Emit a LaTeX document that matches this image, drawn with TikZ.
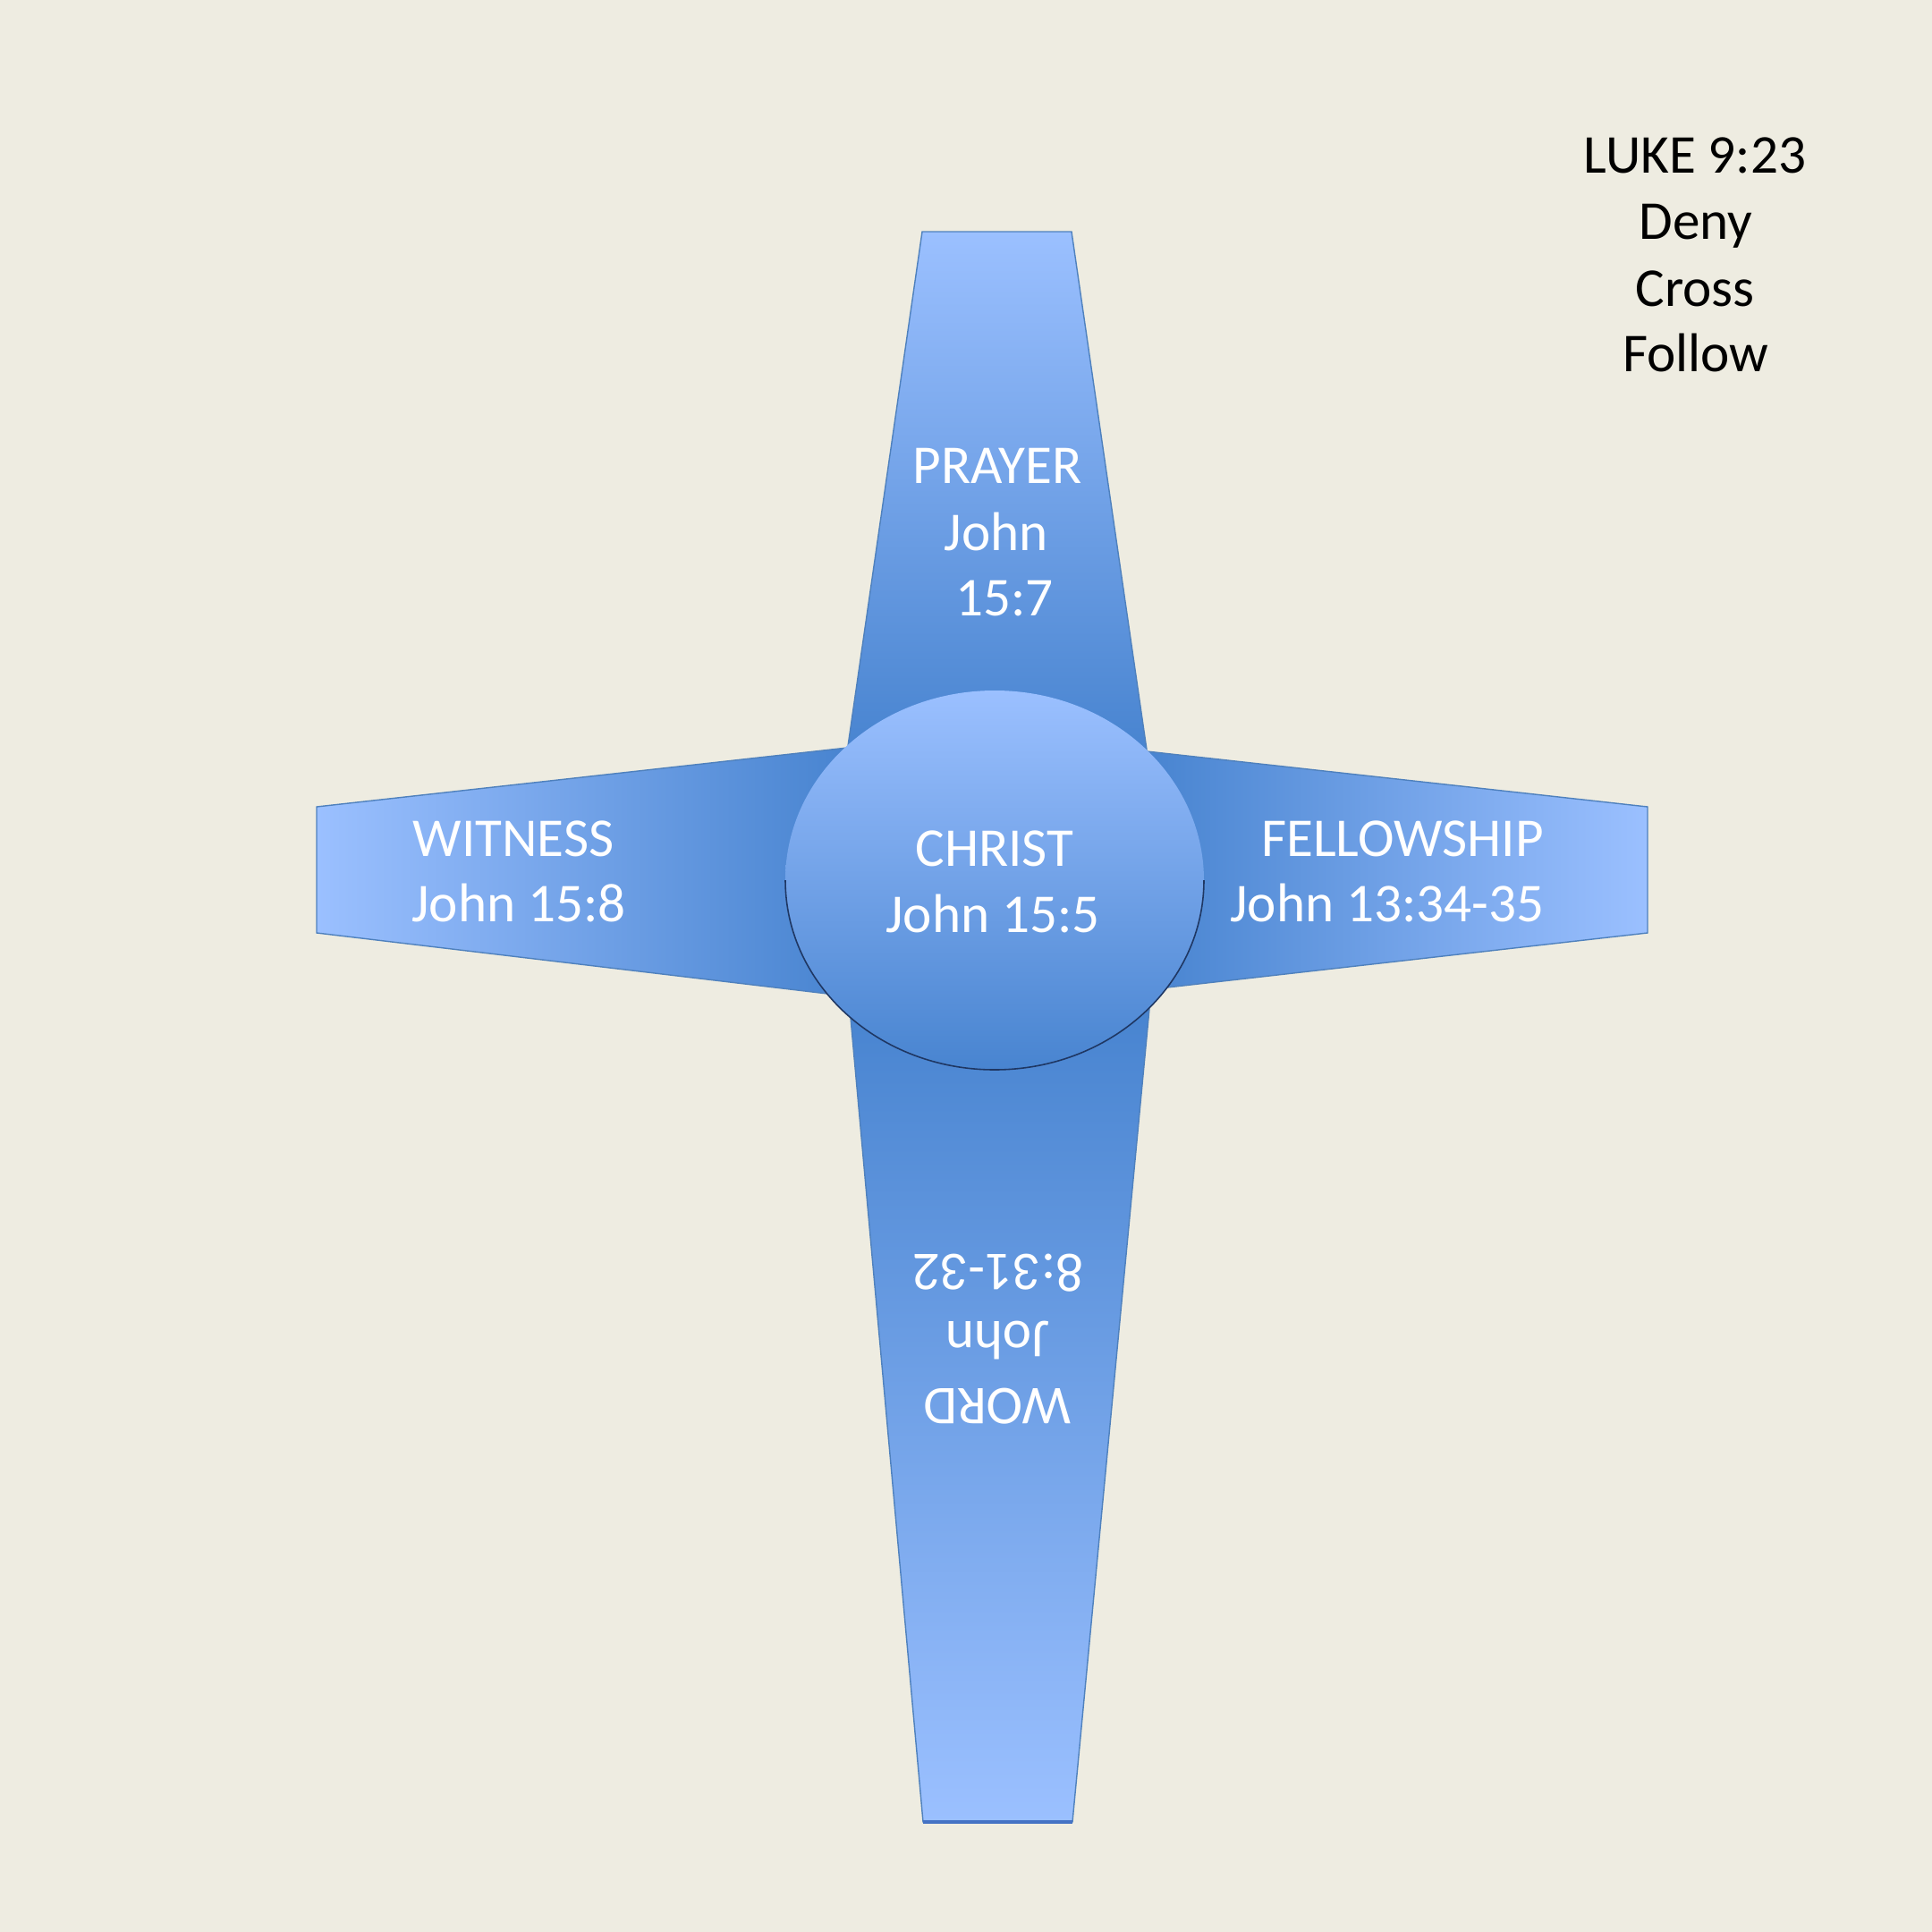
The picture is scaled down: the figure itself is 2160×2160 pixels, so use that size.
\documentclass[tikz,border=0pt]{standalone}
\usepackage{fontspec}
\setmainfont{Carlito}
\definecolor{bg}{RGB}{238,236,225}
\definecolor{armlight}{RGB}{155,192,255}
\definecolor{armdark}{RGB}{72,132,208}
\definecolor{armline}{RGB}{79,129,189}
\definecolor{armbase}{RGB}{68,114,196}
\definecolor{navy}{RGB}{31,55,99}
\begin{document}
\begin{tikzpicture}[x=0.01cm,y=-0.01cm,
  arm/.style={draw=armline, line width=0.4pt},
  lbl/.style={text=white, font=\fontsize{17.4}{21}\selectfont, inner sep=0pt, anchor=base},
  side/.style={text=black, font=\fontsize{17.4}{21}\selectfont, inner sep=0pt, anchor=base}]
\fill[bg] (0,0) rectangle (2160,2160);
\useasboundingbox (0,0) rectangle (2160,2160);

% top arm
\path[arm, top color=armlight, bottom color=armdark]
  (1031,259) -- (1198,259) -- (1282,838) -- (948,834) -- cycle;
% left arm
\path[arm, left color=armlight, right color=armdark]
  (354,902) -- (947,836) -- (925,1111) -- (354,1043) -- cycle;
% right arm
\path[arm, left color=armdark, right color=armlight]
  (1282,840) -- (1842,902) -- (1842,1043) -- (1305,1104) -- cycle;
% bottom arm
\path[arm, top color=armdark, bottom color=armlight]
  (951,1138) -- (1285,1128) -- (1199,2037) -- (1032,2037) -- cycle;
\coordinate (bl) at (1032,2037);
\coordinate (br) at (1199,2037);
\draw[armbase, line width=0.9pt] (bl) -- (br);

% centre ellipse
\path[top color=armlight, bottom color=armdark]
  (1112,984) ellipse [x radius=234, y radius=212];
\coordinate (ew) at (878,984);
\draw[navy, line width=0.45pt] (ew) arc[start angle=180, end angle=0, x radius=234, y radius=212];

% labels
\node[lbl] (prayer) at (1115,540) {PRAYER};
\node[lbl] (prayerj) at (1114,615) {John};
\node[lbl] (prayerv) at (1123,688) {15:7};

\node[lbl] (christ) at (1112,968) {CHRIST};
\node[lbl] (christv) at (1110,1042) {John 15:5};

\node[lbl] (witness) at (574,957) {WITNESS};
\node[lbl] (witnessv) at (580,1030) {John 15:8};

\node[lbl] (fellow) at (1568,957) {FELLOWSHIP};
\node[lbl] (fellowv) at (1551,1030) {John 13:34-35};

\node[lbl, rotate=180] (word) at (1115,1552) {WORD};
\node[lbl, rotate=180] (wordj) at (1115,1477) {John};
\node[lbl, rotate=180] (wordv) at (1116,1402) {8:31-32};

\node[side] (luke) at (1895,193) {LUKE 9:23};
\node[side] (deny) at (1896,267) {Deny};
\node[side] (cross) at (1895,342) {Cross};
\node[side] (follow) at (1896,415) {Follow};
\end{tikzpicture}
\end{document}
